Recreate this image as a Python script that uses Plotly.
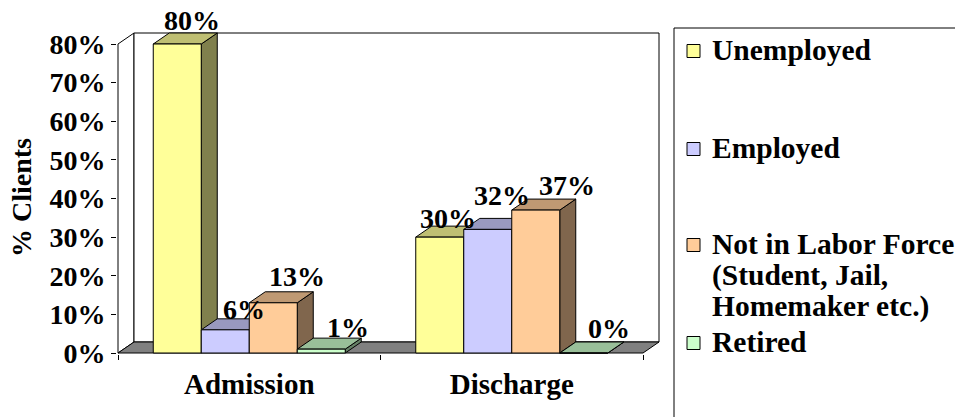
import plotly.graph_objects as go

# ---------------- data ----------------
categories = ["Admission", "Discharge"]
series_names = ["Unemployed", "Employed", "Not in Labor Force", "Retired"]
unemployed = [80, 30]
employed = [6, 32]
not_in_labor_force = [13, 37]
retired = [1, 0]
y_tick_values = [0, 10, 20, 30, 40, 50, 60, 70, 80]
y_tick_labels = ["0%", "10%", "20%", "30%", "40%", "50%", "60%", "70%", "80%"]
legend_labels = [
    ["Unemployed"],
    ["Employed"],
    ["Not in Labor Force", "(Student, Jail,", "Homemaker etc.)"],
    ["Retired"],
]
y_axis_title = "% Clients"

series_values = [unemployed, employed, not_in_labor_force, retired]

# ---------------- styles ----------------
front_colors = ["#FFFF99", "#CCCCFF", "#FFCC99", "#CCFFCC"]
top_colors = ["#BFBF73", "#9999BF", "#BF9973", "#99BF99"]
side_colors = ["#80804D", "#666680", "#80664D", "#668066"]
FLOOR = "#808080"
FONT = "Liberation Serif, Times New Roman, serif"

# per-label pixel nudges (category index, series index) -> (x px, y px)
LABEL_NUDGE = {
    (0, 0): (15, 24), (0, 1): (19, 20), (0, 2): (24, 26), (0, 3): (27, 22),
    (1, 0): (8, 19), (1, 1): (14, 34), (1, 2): (31, 25), (1, 3): (25, 25),
}

W, H = 955, 417
KX = 262.5          # px per category
KY = 3.8625         # px per percent
DX = 16 / KX        # depth offset (x, data units)
DY = 11 / KY        # depth offset (y, data units)
YMAX = 80
BW = 48 / KX        # bar width
EX = 1 / KX
EY = 1 / KY
ML, MT = 117, 32
PLOT_W = 543
PLOT_H = 322
MR = W - ML - PLOT_W
MB = H - MT - PLOT_H


def px2paper(px, py):
    return (px - ML) / PLOT_W, (MT + PLOT_H - py) / PLOT_H


def poly(points, fill, layer="below"):
    path = "M " + " L ".join(f"{x},{y}" for x, y in points) + " Z"
    return dict(type="path", xref="x", yref="y", path=path, fillcolor=fill,
                line=dict(color="black", width=1), layer=layer)


fig = go.Figure()
shapes = []
annotations = []

# walls & floor
x_left, x_right = -0.5, len(categories) - 0.5
shapes.append(poly([(x_left, 0), (x_left, YMAX), (x_left + DX, YMAX + DY), (x_left + DX, DY)], "white"))
shapes.append(poly([(x_left + DX, DY), (x_left + DX, YMAX + DY), (x_right + DX, YMAX + DY), (x_right + DX, DY)], "white"))
shapes.append(poly([(x_left, 0), (x_right, 0), (x_right + DX, DY), (x_left + DX, DY)], FLOOR))

n = len(series_values)
for i, (name, vals) in enumerate(zip(series_names, series_values)):
    off = -n / 2 * BW + i * BW
    fig.add_trace(go.Bar(
        x=categories, y=vals, name=name, width=BW, offset=off,
        marker=dict(color=front_colors[i], line=dict(color="black", width=1)),
        hoverinfo="skip", showlegend=False,
    ))

for c in range(len(categories)):
    for i, vals in enumerate(series_values):
        v = vals[c]
        x0 = c - n / 2 * BW + i * BW
        x1 = x0 + BW
        shapes.append(poly([(x1, 0), (x1, v), (x1 + DX, v + DY), (x1 + DX, DY)], side_colors[i]))
        shapes.append(poly([(x0, v), (x1, v), (x1 + DX, v + DY), (x0 + DX, v + DY)], top_colors[i]))
        nx, ny = LABEL_NUDGE.get((c, i), (20, 24))
        annotations.append(dict(
            x=x0 + BW / 2, y=v, xref="x", yref="y", text=f"{v}%", showarrow=False,
            xshift=nx, yshift=ny, yanchor="middle", xanchor="center",
            font=dict(family=FONT, size=28, color="black", weight="bold"),
        ))

# y-axis title
tx, ty = px2paper(21, 198)
annotations.append(dict(x=tx, y=ty, xref="paper", yref="paper", text=y_axis_title,
                        textangle=-90, showarrow=False, xanchor="center", yanchor="middle",
                        font=dict(family=FONT, size=28, color="black", weight="bold")))

# legend (manual)
bx0, by0 = px2paper(674, 28)
bx1, by1 = px2paper(962, 425)
shapes.append(dict(type="rect", xref="paper", yref="paper", x0=bx0, y0=by1, x1=bx1, y1=by0,
                   line=dict(color="black", width=1), fillcolor="white", layer="above"))
legend_line_y = [[49], [147], [243, 274, 305], [341]]
for i, lines in enumerate(legend_labels):
    sy = legend_line_y[i][0] + 2
    sx0, sy0 = px2paper(687, sy - 6.5)
    sx1, sy1 = px2paper(700, sy + 6.5)
    shapes.append(dict(type="rect", xref="paper", yref="paper", x0=sx0, y0=sy1, x1=sx1, y1=sy0,
                       line=dict(color="black", width=1), fillcolor=front_colors[i], layer="above"))
    for line, ly in zip(lines, legend_line_y[i]):
        ax, ay = px2paper(710, ly + 1)
        annotations.append(dict(x=ax, y=ay, xref="paper", yref="paper", text=line, showarrow=False,
                                xanchor="left", yanchor="middle",
                                font=dict(family=FONT, size=29.5, color="black", weight="bold")))

fig.update_layout(
    width=W, height=H,
    margin=dict(l=ML, r=MR, t=MT, b=MB, pad=0),
    paper_bgcolor="white", plot_bgcolor="white",
    barmode="overlay",
    shapes=shapes, annotations=annotations,
    showlegend=False,
    font=dict(family=FONT, color="black"),
    xaxis=dict(type="category", categoryorder="array", categoryarray=categories,
               range=[-0.5 - EX, len(categories) - 0.5 + DX + EX],
               tickson="boundaries", ticks="outside", ticklen=5, tickcolor="black", tickwidth=1,
               ticklabelstandoff=10,
               showline=False, showgrid=False, zeroline=False, fixedrange=True,
               tickfont=dict(family=FONT, size=29, color="black", weight="bold")),
    yaxis=dict(range=[-EY, YMAX + DY + EY], tickvals=y_tick_values, ticktext=y_tick_labels,
               ticks="outside", ticklen=5, tickcolor="black", tickwidth=1,
               showline=False, showgrid=False, zeroline=False, fixedrange=True,
               tickfont=dict(family=FONT, size=28, color="black", weight="bold")),
)

fig.write_html("out.html", config={"displayModeBar": False},
               post_script="document.body.style.margin='0';document.body.style.overflow='hidden';")
